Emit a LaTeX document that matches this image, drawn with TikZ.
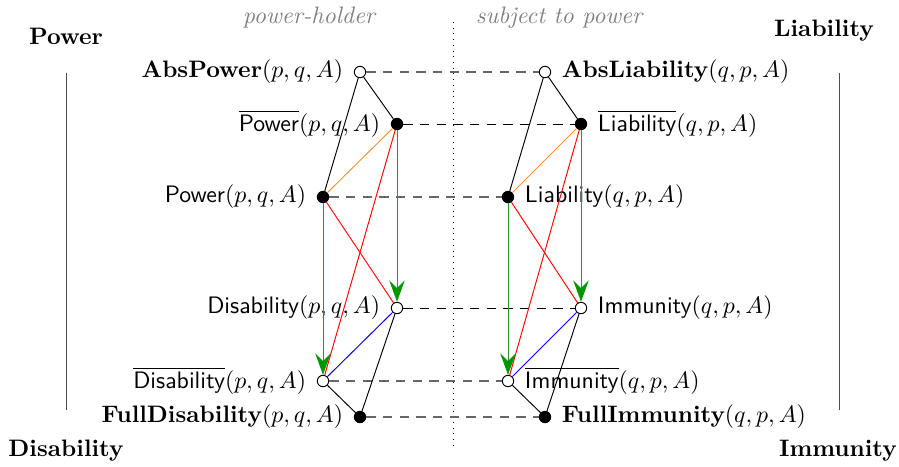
\documentclass[tikz,border=0pt]{standalone}
\usetikzlibrary{arrows.meta}
\definecolor{arrgreen}{RGB}{0,150,0}
\definecolor{lngreen}{RGB}{40,150,40}
\definecolor{orng}{RGB}{240,150,50}
\begin{document}
\begin{tikzpicture}[x=0.42pt,y=-0.42pt,
  opn/.style={circle,draw,fill=white,inner sep=0pt,minimum size=4.8pt},
  fil/.style={circle,draw,fill=black,inner sep=0pt,minimum size=4.8pt},
  lbl/.style={font=\sffamily},
  blk/.style={black},
  orn/.style={orng},
  rd/.style={red},
  bl/.style={blue},
  gr/.style={lngreen,-{Stealth[length=9pt,width=6.5pt,inset=3.2pt,fill=arrgreen,color=arrgreen]}},
  dblk/.style={dashed,dash pattern=on 4pt off 3pt,black},
  dgry/.style={dashed,dash pattern=on 4pt off 3pt,black!60,semithick},
  hdr/.style={font=\itshape,text=black!50},
  ttl/.style={font=\bfseries}]
\useasboundingbox (0,0) rectangle (899,466);
% headers
\node[hdr] (hph) at (309,18) {power-holder};
\node[hdr] (hsp) at (559,18) {subject to power};
\coordinate (dt) at (453,22);
\coordinate (db) at (453,447);
\draw[dotted] (dt) -- (db);
\node[ttl] (tP) at (66,36) {Power};
\node[ttl] (tL) at (824,31) {Liability};
\node[ttl] (tD) at (66,451) {Disability};
\node[ttl] (tI) at (838,451) {Immunity};
\coordinate (lt) at (66,73); \coordinate (lb) at (66,410);
\coordinate (rt) at (839,73); \coordinate (rb) at (839,410);
\draw[black!70] (lt) -- (lb);
\draw[black!70] (rt) -- (rb);
% left nodes
\node[opn,label={[label distance=1pt]left:\textbf{AbsPower}$(p,q,A)$}] (ap) at (360,72) {};
\node[fil,label={[label distance=1pt,lbl]left:$\overline{\mbox{\sffamily Power}}(p,q,A)$}] (pb) at (397,124) {};
\node[fil,label={[label distance=1pt,lbl]left:Power$(p,q,A)$}] (pw) at (323,197) {};
\node[opn,label={[label distance=1pt,lbl]left:Disability$(p,q,A)$}] (di) at (397,308) {};
\node[opn,label={[label distance=1pt,lbl]left:$\overline{\mbox{\sffamily Disability}}(p,q,A)$}] (db2) at (323,381) {};
\node[fil,label={[label distance=1pt]left:\textbf{FullDisability}$(p,q,A)$}] (fd) at (360,417) {};
% right nodes
\node[opn,label={[label distance=1pt]right:\textbf{AbsLiability}$(q,p,A)$}] (al) at (545,72) {};
\node[fil,label={[label distance=1pt,lbl]right:$\overline{\mbox{\sffamily Liability}}(q,p,A)$}] (lb2) at (581,124) {};
\node[fil,label={[label distance=1pt,lbl]right:Liability$(q,p,A)$}] (li) at (508,197) {};
\node[opn,label={[label distance=1pt,lbl]right:Immunity$(q,p,A)$}] (im) at (581,308) {};
\node[opn,label={[label distance=1pt,lbl]right:$\overline{\mbox{\sffamily Immunity}}(q,p,A)$}] (ib) at (508,381) {};
\node[fil,label={[label distance=1pt]right:\textbf{FullImmunity}$(q,p,A)$}] (fi) at (545,417) {};
% dashed links
\draw[dgry] (ap) -- (al);
\draw[dblk] (pb) -- (lb2);
\draw[dgry] (pw) -- (li);
\draw[dblk] (di) -- (im);
\draw[dgry] (db2) -- (ib);
\draw[dgry] (fd) -- (fi);
% left edges
\draw[blk] (ap) -- (pw);
\draw[blk] (ap) -- (pb);
\draw[orn] (pb) -- (pw);
\draw[rd] (pb) -- (db2);
\draw[rd] (pw) -- (di);
\draw[gr] (pb) -- (di);
\draw[gr] (pw) -- (db2);
\draw[bl] (di) -- (db2);
\draw[blk] (di) -- (fd);
\draw[blk] (db2) -- (fd);
% right edges
\draw[blk] (al) -- (li);
\draw[blk] (al) -- (lb2);
\draw[orn] (lb2) -- (li);
\draw[rd] (lb2) -- (ib);
\draw[rd] (li) -- (im);
\draw[gr] (lb2) -- (im);
\draw[gr] (li) -- (ib);
\draw[bl] (im) -- (ib);
\draw[blk] (im) -- (fi);
\draw[blk] (ib) -- (fi);
\end{tikzpicture}
\end{document}
